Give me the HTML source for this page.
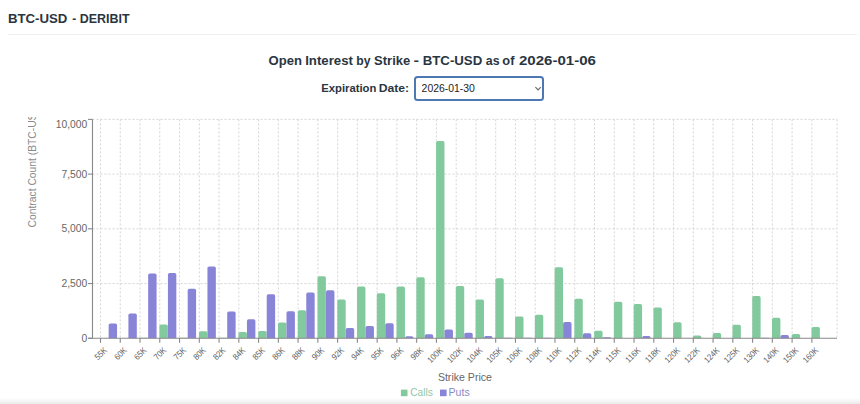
<!DOCTYPE html>
<html><head><meta charset="utf-8">
<style>
html,body{margin:0;padding:0;}
body{width:860px;height:404px;position:relative;overflow:hidden;background:#fff;font-family:"Liberation Sans",sans-serif;}
.shade{position:absolute;left:0;top:397.8px;width:860px;height:6.2px;background:linear-gradient(#ffffff,#eaeaea);}
.sep{position:absolute;left:7.7px;top:33.6px;width:849.5px;height:1px;background:#f0f0f0;}
.sel{position:absolute;left:413.5px;top:76.0px;width:130.3px;height:24.5px;box-sizing:border-box;border:2px solid #4e78b2;border-radius:3.5px;background:#fff;}
svg{position:absolute;left:0;top:0;}
</style></head><body>
<div class="sep"></div>
<div class="sel"></div>
<svg width="860" height="404" viewBox="0 0 860 404">
<path d="M535.4,87.1 L538.1,89.8 L540.8,87.1" fill="none" stroke="#6a6a6a" stroke-width="1.2"/>
<g stroke="#d0d0d0" stroke-width="0.9" stroke-dasharray="2 2" fill="none"><line x1="92.5" y1="283.57" x2="837.0" y2="283.57"/><line x1="92.5" y1="228.84" x2="837.0" y2="228.84"/><line x1="92.5" y1="174.11" x2="837.0" y2="174.11"/><line x1="92.5" y1="119.38" x2="837.0" y2="119.38"/><line x1="100.50" y1="119.4" x2="100.50" y2="338.3"/><line x1="120.26" y1="119.4" x2="120.26" y2="338.3"/><line x1="140.02" y1="119.4" x2="140.02" y2="338.3"/><line x1="159.78" y1="119.4" x2="159.78" y2="338.3"/><line x1="179.54" y1="119.4" x2="179.54" y2="338.3"/><line x1="199.30" y1="119.4" x2="199.30" y2="338.3"/><line x1="219.06" y1="119.4" x2="219.06" y2="338.3"/><line x1="238.82" y1="119.4" x2="238.82" y2="338.3"/><line x1="258.58" y1="119.4" x2="258.58" y2="338.3"/><line x1="278.34" y1="119.4" x2="278.34" y2="338.3"/><line x1="298.10" y1="119.4" x2="298.10" y2="338.3"/><line x1="317.86" y1="119.4" x2="317.86" y2="338.3"/><line x1="337.62" y1="119.4" x2="337.62" y2="338.3"/><line x1="357.38" y1="119.4" x2="357.38" y2="338.3"/><line x1="377.14" y1="119.4" x2="377.14" y2="338.3"/><line x1="396.90" y1="119.4" x2="396.90" y2="338.3"/><line x1="416.66" y1="119.4" x2="416.66" y2="338.3"/><line x1="436.42" y1="119.4" x2="436.42" y2="338.3"/><line x1="456.18" y1="119.4" x2="456.18" y2="338.3"/><line x1="475.94" y1="119.4" x2="475.94" y2="338.3"/><line x1="495.70" y1="119.4" x2="495.70" y2="338.3"/><line x1="515.46" y1="119.4" x2="515.46" y2="338.3"/><line x1="535.22" y1="119.4" x2="535.22" y2="338.3"/><line x1="554.98" y1="119.4" x2="554.98" y2="338.3"/><line x1="574.74" y1="119.4" x2="574.74" y2="338.3"/><line x1="594.50" y1="119.4" x2="594.50" y2="338.3"/><line x1="614.26" y1="119.4" x2="614.26" y2="338.3"/><line x1="634.02" y1="119.4" x2="634.02" y2="338.3"/><line x1="653.78" y1="119.4" x2="653.78" y2="338.3"/><line x1="673.54" y1="119.4" x2="673.54" y2="338.3"/><line x1="693.30" y1="119.4" x2="693.30" y2="338.3"/><line x1="713.06" y1="119.4" x2="713.06" y2="338.3"/><line x1="732.82" y1="119.4" x2="732.82" y2="338.3"/><line x1="752.58" y1="119.4" x2="752.58" y2="338.3"/><line x1="772.34" y1="119.4" x2="772.34" y2="338.3"/><line x1="792.10" y1="119.4" x2="792.10" y2="338.3"/><line x1="811.86" y1="119.4" x2="811.86" y2="338.3"/><line x1="837.0" y1="119.4" x2="837.0" y2="338.3"/></g>
<path d="M108.65,338.30 L108.65,325.11 Q108.65,323.41 110.35,323.41 L115.35,323.41 Q117.05,323.41 117.05,325.11 L117.05,338.30 Z" fill="#8884d8"/><path d="M128.41,338.30 L128.41,315.21 Q128.41,313.51 130.11,313.51 L135.11,313.51 Q136.81,313.51 136.81,315.21 L136.81,338.30 Z" fill="#8884d8"/><path d="M139.67,338.30 L139.67,338.30 Q139.67,337.64 140.33,337.64 L147.41,337.64 Q148.07,337.64 148.07,338.30 L148.07,338.30 Z" fill="#82ca9d"/><path d="M148.17,338.30 L148.17,275.20 Q148.17,273.50 149.87,273.50 L154.87,273.50 Q156.57,273.50 156.57,275.20 L156.57,338.30 Z" fill="#8884d8"/><path d="M159.43,338.30 L159.43,326.31 Q159.43,324.61 161.13,324.61 L166.13,324.61 Q167.83,324.61 167.83,326.31 L167.83,338.30 Z" fill="#82ca9d"/><path d="M167.93,338.30 L167.93,274.80 Q167.93,273.10 169.63,273.10 L174.63,273.10 Q176.33,273.10 176.33,274.80 L176.33,338.30 Z" fill="#8884d8"/><path d="M179.19,338.30 L179.19,338.30 Q179.19,337.64 179.85,337.64 L186.93,337.64 Q187.59,337.64 187.59,338.30 L187.59,338.30 Z" fill="#82ca9d"/><path d="M187.69,338.30 L187.69,290.51 Q187.69,288.81 189.39,288.81 L194.39,288.81 Q196.09,288.81 196.09,290.51 L196.09,338.30 Z" fill="#8884d8"/><path d="M198.95,338.30 L198.95,332.90 Q198.95,331.20 200.65,331.20 L205.65,331.20 Q207.35,331.20 207.35,332.90 L207.35,338.30 Z" fill="#82ca9d"/><path d="M207.45,338.30 L207.45,268.21 Q207.45,266.51 209.15,266.51 L214.15,266.51 Q215.85,266.51 215.85,268.21 L215.85,338.30 Z" fill="#8884d8"/><path d="M218.71,338.30 L218.71,338.30 Q218.71,337.64 219.37,337.64 L226.45,337.64 Q227.11,337.64 227.11,338.30 L227.11,338.30 Z" fill="#82ca9d"/><path d="M227.21,338.30 L227.21,313.30 Q227.21,311.60 228.91,311.60 L233.91,311.60 Q235.61,311.60 235.61,313.30 L235.61,338.30 Z" fill="#8884d8"/><path d="M238.47,338.30 L238.47,333.61 Q238.47,331.91 240.17,331.91 L245.17,331.91 Q246.87,331.91 246.87,333.61 L246.87,338.30 Z" fill="#82ca9d"/><path d="M246.97,338.30 L246.97,320.90 Q246.97,319.20 248.67,319.20 L253.67,319.20 Q255.37,319.20 255.37,320.90 L255.37,338.30 Z" fill="#8884d8"/><path d="M258.23,338.30 L258.23,332.60 Q258.23,330.90 259.93,330.90 L264.93,330.90 Q266.63,330.90 266.63,332.60 L266.63,338.30 Z" fill="#82ca9d"/><path d="M266.73,338.30 L266.73,295.89 Q266.73,294.19 268.43,294.19 L273.43,294.19 Q275.13,294.19 275.13,295.89 L275.13,338.30 Z" fill="#8884d8"/><path d="M277.99,338.30 L277.99,324.21 Q277.99,322.51 279.69,322.51 L284.69,322.51 Q286.39,322.51 286.39,324.21 L286.39,338.30 Z" fill="#82ca9d"/><path d="M286.49,338.30 L286.49,312.91 Q286.49,311.21 288.19,311.21 L293.19,311.21 Q294.89,311.21 294.89,312.91 L294.89,338.30 Z" fill="#8884d8"/><path d="M297.75,338.30 L297.75,311.90 Q297.75,310.20 299.45,310.20 L304.45,310.20 Q306.15,310.20 306.15,311.90 L306.15,338.30 Z" fill="#82ca9d"/><path d="M306.25,338.30 L306.25,294.10 Q306.25,292.40 307.95,292.40 L312.95,292.40 Q314.65,292.40 314.65,294.10 L314.65,338.30 Z" fill="#8884d8"/><path d="M317.51,338.30 L317.51,278.02 Q317.51,276.32 319.21,276.32 L324.21,276.32 Q325.91,276.32 325.91,278.02 L325.91,338.30 Z" fill="#82ca9d"/><path d="M326.01,338.30 L326.01,291.93 Q326.01,290.23 327.71,290.23 L332.71,290.23 Q334.41,290.23 334.41,291.93 L334.41,338.30 Z" fill="#8884d8"/><path d="M337.27,338.30 L337.27,301.11 Q337.27,299.41 338.97,299.41 L343.97,299.41 Q345.67,299.41 345.67,301.11 L345.67,338.30 Z" fill="#82ca9d"/><path d="M345.77,338.30 L345.77,329.79 Q345.77,328.09 347.47,328.09 L352.47,328.09 Q354.17,328.09 354.17,329.79 L354.17,338.30 Z" fill="#8884d8"/><path d="M357.03,338.30 L357.03,288.21 Q357.03,286.51 358.73,286.51 L363.73,286.51 Q365.43,286.51 365.43,288.21 L365.43,338.30 Z" fill="#82ca9d"/><path d="M365.53,338.30 L365.53,327.69 Q365.53,325.99 367.23,325.99 L372.23,325.99 Q373.93,325.99 373.93,327.69 L373.93,338.30 Z" fill="#8884d8"/><path d="M376.79,338.30 L376.79,295.00 Q376.79,293.30 378.49,293.30 L383.49,293.30 Q385.19,293.30 385.19,295.00 L385.19,338.30 Z" fill="#82ca9d"/><path d="M385.29,338.30 L385.29,324.89 Q385.29,323.19 386.99,323.19 L391.99,323.19 Q393.69,323.19 393.69,324.89 L393.69,338.30 Z" fill="#8884d8"/><path d="M396.55,338.30 L396.55,288.21 Q396.55,286.51 398.25,286.51 L403.25,286.51 Q404.95,286.51 404.95,288.21 L404.95,338.30 Z" fill="#82ca9d"/><path d="M405.05,338.30 L405.05,337.92 Q405.05,336.22 406.75,336.22 L411.75,336.22 Q413.45,336.22 413.45,337.92 L413.45,338.30 Z" fill="#8884d8"/><path d="M416.31,338.30 L416.31,279.01 Q416.31,277.31 418.01,277.31 L423.01,277.31 Q424.71,277.31 424.71,279.01 L424.71,338.30 Z" fill="#82ca9d"/><path d="M424.81,338.30 L424.81,336.06 Q424.81,334.36 426.51,334.36 L431.51,334.36 Q433.21,334.36 433.21,336.06 L433.21,338.30 Z" fill="#8884d8"/><path d="M436.07,338.30 L436.07,142.79 Q436.07,141.09 437.77,141.09 L442.77,141.09 Q444.47,141.09 444.47,142.79 L444.47,338.30 Z" fill="#82ca9d"/><path d="M444.57,338.30 L444.57,331.15 Q444.57,329.45 446.27,329.45 L451.27,329.45 Q452.97,329.45 452.97,331.15 L452.97,338.30 Z" fill="#8884d8"/><path d="M455.83,338.30 L455.83,287.70 Q455.83,286.00 457.53,286.00 L462.53,286.00 Q464.23,286.00 464.23,287.70 L464.23,338.30 Z" fill="#82ca9d"/><path d="M464.33,338.30 L464.33,334.42 Q464.33,332.72 466.03,332.72 L471.03,332.72 Q472.73,332.72 472.73,334.42 L472.73,338.30 Z" fill="#8884d8"/><path d="M475.59,338.30 L475.59,301.11 Q475.59,299.41 477.29,299.41 L482.29,299.41 Q483.99,299.41 483.99,301.11 L483.99,338.30 Z" fill="#82ca9d"/><path d="M484.09,338.30 L484.09,337.81 Q484.09,336.11 485.79,336.11 L490.79,336.11 Q492.49,336.11 492.49,337.81 L492.49,338.30 Z" fill="#8884d8"/><path d="M495.35,338.30 L495.35,279.91 Q495.35,278.21 497.05,278.21 L502.05,278.21 Q503.75,278.21 503.75,279.91 L503.75,338.30 Z" fill="#82ca9d"/><path d="M503.85,338.30 L503.85,338.30 Q503.85,337.64 504.51,337.64 L511.59,337.64 Q512.25,337.64 512.25,338.30 L512.25,338.30 Z" fill="#8884d8"/><path d="M515.11,338.30 L515.11,318.10 Q515.11,316.40 516.81,316.40 L521.81,316.40 Q523.51,316.40 523.51,318.10 L523.51,338.30 Z" fill="#82ca9d"/><path d="M523.61,338.30 L523.61,338.30 Q523.61,337.64 524.27,337.64 L531.35,337.64 Q532.01,337.64 532.01,338.30 L532.01,338.30 Z" fill="#8884d8"/><path d="M534.87,338.30 L534.87,316.39 Q534.87,314.69 536.57,314.69 L541.57,314.69 Q543.27,314.69 543.27,316.39 L543.27,338.30 Z" fill="#82ca9d"/><path d="M543.37,338.30 L543.37,338.30 Q543.37,337.64 544.03,337.64 L551.11,337.64 Q551.77,337.64 551.77,338.30 L551.77,338.30 Z" fill="#8884d8"/><path d="M554.63,338.30 L554.63,268.89 Q554.63,267.19 556.33,267.19 L561.33,267.19 Q563.03,267.19 563.03,268.89 L563.03,338.30 Z" fill="#82ca9d"/><path d="M563.13,338.30 L563.13,323.71 Q563.13,322.01 564.83,322.01 L569.83,322.01 Q571.53,322.01 571.53,323.71 L571.53,338.30 Z" fill="#8884d8"/><path d="M574.39,338.30 L574.39,300.40 Q574.39,298.70 576.09,298.70 L581.09,298.70 Q582.79,298.70 582.79,300.40 L582.79,338.30 Z" fill="#82ca9d"/><path d="M582.89,338.30 L582.89,334.92 Q582.89,333.22 584.59,333.22 L589.59,333.22 Q591.29,333.22 591.29,334.92 L591.29,338.30 Z" fill="#8884d8"/><path d="M594.15,338.30 L594.15,332.55 Q594.15,330.85 595.85,330.85 L600.85,330.85 Q602.55,330.85 602.55,332.55 L602.55,338.30 Z" fill="#82ca9d"/><path d="M602.65,338.30 L602.65,338.30 Q602.65,337.20 603.75,337.20 L609.95,337.20 Q611.05,337.20 611.05,338.30 L611.05,338.30 Z" fill="#8884d8"/><path d="M613.91,338.30 L613.91,303.49 Q613.91,301.79 615.61,301.79 L620.61,301.79 Q622.31,301.79 622.31,303.49 L622.31,338.30 Z" fill="#82ca9d"/><path d="M633.67,338.30 L633.67,305.79 Q633.67,304.09 635.37,304.09 L640.37,304.09 Q642.07,304.09 642.07,305.79 L642.07,338.30 Z" fill="#82ca9d"/><path d="M642.17,338.30 L642.17,337.74 Q642.17,336.04 643.87,336.04 L648.87,336.04 Q650.57,336.04 650.57,337.74 L650.57,338.30 Z" fill="#8884d8"/><path d="M653.43,338.30 L653.43,309.30 Q653.43,307.60 655.13,307.60 L660.13,307.60 Q661.83,307.60 661.83,309.30 L661.83,338.30 Z" fill="#82ca9d"/><path d="M673.19,338.30 L673.19,323.90 Q673.19,322.20 674.89,322.20 L679.89,322.20 Q681.59,322.20 681.59,323.90 L681.59,338.30 Z" fill="#82ca9d"/><path d="M692.95,338.30 L692.95,337.15 Q692.95,335.45 694.65,335.45 L699.65,335.45 Q701.35,335.45 701.35,337.15 L701.35,338.30 Z" fill="#82ca9d"/><path d="M712.71,338.30 L712.71,334.81 Q712.71,333.11 714.41,333.11 L719.41,333.11 Q721.11,333.11 721.11,334.81 L721.11,338.30 Z" fill="#82ca9d"/><path d="M732.47,338.30 L732.47,326.51 Q732.47,324.81 734.17,324.81 L739.17,324.81 Q740.87,324.81 740.87,326.51 L740.87,338.30 Z" fill="#82ca9d"/><path d="M752.23,338.30 L752.23,297.80 Q752.23,296.10 753.93,296.10 L758.93,296.10 Q760.63,296.10 760.63,297.80 L760.63,338.30 Z" fill="#82ca9d"/><path d="M760.73,338.30 L760.73,338.30 Q760.73,337.64 761.39,337.64 L768.47,337.64 Q769.13,337.64 769.13,338.30 L769.13,338.30 Z" fill="#8884d8"/><path d="M771.99,338.30 L771.99,319.41 Q771.99,317.71 773.69,317.71 L778.69,317.71 Q780.39,317.71 780.39,319.41 L780.39,338.30 Z" fill="#82ca9d"/><path d="M780.49,338.30 L780.49,336.80 Q780.49,335.10 782.19,335.10 L787.19,335.10 Q788.89,335.10 788.89,336.80 L788.89,338.30 Z" fill="#8884d8"/><path d="M791.75,338.30 L791.75,335.60 Q791.75,333.90 793.45,333.90 L798.45,333.90 Q800.15,333.90 800.15,335.60 L800.15,338.30 Z" fill="#82ca9d"/><path d="M811.51,338.30 L811.51,328.81 Q811.51,327.11 813.21,327.11 L818.21,327.11 Q819.91,327.11 819.91,328.81 L819.91,338.30 Z" fill="#82ca9d"/>
<g stroke="#888" stroke-width="1.1"><line x1="92.5" y1="119.4" x2="92.5" y2="338.3"/><line x1="88.5" y1="338.3" x2="837.0" y2="338.3"/><line x1="88.0" y1="338.30" x2="92.5" y2="338.30"/><line x1="88.0" y1="283.57" x2="92.5" y2="283.57"/><line x1="88.0" y1="228.84" x2="92.5" y2="228.84"/><line x1="88.0" y1="174.11" x2="92.5" y2="174.11"/><line x1="88.0" y1="119.38" x2="92.5" y2="119.38"/><line x1="100.50" y1="338.3" x2="100.50" y2="342.8"/><line x1="120.26" y1="338.3" x2="120.26" y2="342.8"/><line x1="140.02" y1="338.3" x2="140.02" y2="342.8"/><line x1="159.78" y1="338.3" x2="159.78" y2="342.8"/><line x1="179.54" y1="338.3" x2="179.54" y2="342.8"/><line x1="199.30" y1="338.3" x2="199.30" y2="342.8"/><line x1="219.06" y1="338.3" x2="219.06" y2="342.8"/><line x1="238.82" y1="338.3" x2="238.82" y2="342.8"/><line x1="258.58" y1="338.3" x2="258.58" y2="342.8"/><line x1="278.34" y1="338.3" x2="278.34" y2="342.8"/><line x1="298.10" y1="338.3" x2="298.10" y2="342.8"/><line x1="317.86" y1="338.3" x2="317.86" y2="342.8"/><line x1="337.62" y1="338.3" x2="337.62" y2="342.8"/><line x1="357.38" y1="338.3" x2="357.38" y2="342.8"/><line x1="377.14" y1="338.3" x2="377.14" y2="342.8"/><line x1="396.90" y1="338.3" x2="396.90" y2="342.8"/><line x1="416.66" y1="338.3" x2="416.66" y2="342.8"/><line x1="436.42" y1="338.3" x2="436.42" y2="342.8"/><line x1="456.18" y1="338.3" x2="456.18" y2="342.8"/><line x1="475.94" y1="338.3" x2="475.94" y2="342.8"/><line x1="495.70" y1="338.3" x2="495.70" y2="342.8"/><line x1="515.46" y1="338.3" x2="515.46" y2="342.8"/><line x1="535.22" y1="338.3" x2="535.22" y2="342.8"/><line x1="554.98" y1="338.3" x2="554.98" y2="342.8"/><line x1="574.74" y1="338.3" x2="574.74" y2="342.8"/><line x1="594.50" y1="338.3" x2="594.50" y2="342.8"/><line x1="614.26" y1="338.3" x2="614.26" y2="342.8"/><line x1="634.02" y1="338.3" x2="634.02" y2="342.8"/><line x1="653.78" y1="338.3" x2="653.78" y2="342.8"/><line x1="673.54" y1="338.3" x2="673.54" y2="342.8"/><line x1="693.30" y1="338.3" x2="693.30" y2="342.8"/><line x1="713.06" y1="338.3" x2="713.06" y2="342.8"/><line x1="732.82" y1="338.3" x2="732.82" y2="342.8"/><line x1="752.58" y1="338.3" x2="752.58" y2="342.8"/><line x1="772.34" y1="338.3" x2="772.34" y2="342.8"/><line x1="792.10" y1="338.3" x2="792.10" y2="342.8"/><line x1="811.86" y1="338.3" x2="811.86" y2="342.8"/></g>
<g font-family="Liberation Sans, sans-serif" font-size="10.3" fill="#666"><text x="87.3" y="341.90" text-anchor="end">0</text><text x="87.3" y="287.17" text-anchor="end">2,500</text><text x="87.3" y="232.44" text-anchor="end">5,000</text><text x="87.3" y="177.71" text-anchor="end">7,500</text><text x="87.3" y="127.58" text-anchor="end">10,000</text></g>
<g font-family="Liberation Sans, sans-serif" font-size="8.6" fill="#616161"><text x="0" y="0" transform="translate(103.30 346.50) rotate(-45) scale(0.9 1)" text-anchor="end" dy="6.11">55K</text><text x="0" y="0" transform="translate(123.06 346.50) rotate(-45) scale(0.9 1)" text-anchor="end" dy="6.11">60K</text><text x="0" y="0" transform="translate(142.82 346.50) rotate(-45) scale(0.9 1)" text-anchor="end" dy="6.11">65K</text><text x="0" y="0" transform="translate(162.58 346.50) rotate(-45) scale(0.9 1)" text-anchor="end" dy="6.11">70K</text><text x="0" y="0" transform="translate(182.34 346.50) rotate(-45) scale(0.9 1)" text-anchor="end" dy="6.11">75K</text><text x="0" y="0" transform="translate(202.10 346.50) rotate(-45) scale(0.9 1)" text-anchor="end" dy="6.11">80K</text><text x="0" y="0" transform="translate(221.86 346.50) rotate(-45) scale(0.9 1)" text-anchor="end" dy="6.11">82K</text><text x="0" y="0" transform="translate(241.62 346.50) rotate(-45) scale(0.9 1)" text-anchor="end" dy="6.11">84K</text><text x="0" y="0" transform="translate(261.38 346.50) rotate(-45) scale(0.9 1)" text-anchor="end" dy="6.11">85K</text><text x="0" y="0" transform="translate(281.14 346.50) rotate(-45) scale(0.9 1)" text-anchor="end" dy="6.11">86K</text><text x="0" y="0" transform="translate(300.90 346.50) rotate(-45) scale(0.9 1)" text-anchor="end" dy="6.11">88K</text><text x="0" y="0" transform="translate(320.66 346.50) rotate(-45) scale(0.9 1)" text-anchor="end" dy="6.11">90K</text><text x="0" y="0" transform="translate(340.42 346.50) rotate(-45) scale(0.9 1)" text-anchor="end" dy="6.11">92K</text><text x="0" y="0" transform="translate(360.18 346.50) rotate(-45) scale(0.9 1)" text-anchor="end" dy="6.11">94K</text><text x="0" y="0" transform="translate(379.94 346.50) rotate(-45) scale(0.9 1)" text-anchor="end" dy="6.11">95K</text><text x="0" y="0" transform="translate(399.70 346.50) rotate(-45) scale(0.9 1)" text-anchor="end" dy="6.11">96K</text><text x="0" y="0" transform="translate(419.46 346.50) rotate(-45) scale(0.9 1)" text-anchor="end" dy="6.11">98K</text><text x="0" y="0" transform="translate(439.22 346.50) rotate(-45) scale(0.9 1)" text-anchor="end" dy="6.11">100K</text><text x="0" y="0" transform="translate(458.98 346.50) rotate(-45) scale(0.9 1)" text-anchor="end" dy="6.11">102K</text><text x="0" y="0" transform="translate(478.74 346.50) rotate(-45) scale(0.9 1)" text-anchor="end" dy="6.11">104K</text><text x="0" y="0" transform="translate(498.50 346.50) rotate(-45) scale(0.9 1)" text-anchor="end" dy="6.11">105K</text><text x="0" y="0" transform="translate(518.26 346.50) rotate(-45) scale(0.9 1)" text-anchor="end" dy="6.11">106K</text><text x="0" y="0" transform="translate(538.02 346.50) rotate(-45) scale(0.9 1)" text-anchor="end" dy="6.11">108K</text><text x="0" y="0" transform="translate(557.78 346.50) rotate(-45) scale(0.9 1)" text-anchor="end" dy="6.11">110K</text><text x="0" y="0" transform="translate(577.54 346.50) rotate(-45) scale(0.9 1)" text-anchor="end" dy="6.11">112K</text><text x="0" y="0" transform="translate(597.30 346.50) rotate(-45) scale(0.9 1)" text-anchor="end" dy="6.11">114K</text><text x="0" y="0" transform="translate(617.06 346.50) rotate(-45) scale(0.9 1)" text-anchor="end" dy="6.11">115K</text><text x="0" y="0" transform="translate(636.82 346.50) rotate(-45) scale(0.9 1)" text-anchor="end" dy="6.11">116K</text><text x="0" y="0" transform="translate(656.58 346.50) rotate(-45) scale(0.9 1)" text-anchor="end" dy="6.11">118K</text><text x="0" y="0" transform="translate(676.34 346.50) rotate(-45) scale(0.9 1)" text-anchor="end" dy="6.11">120K</text><text x="0" y="0" transform="translate(696.10 346.50) rotate(-45) scale(0.9 1)" text-anchor="end" dy="6.11">122K</text><text x="0" y="0" transform="translate(715.86 346.50) rotate(-45) scale(0.9 1)" text-anchor="end" dy="6.11">124K</text><text x="0" y="0" transform="translate(735.62 346.50) rotate(-45) scale(0.9 1)" text-anchor="end" dy="6.11">125K</text><text x="0" y="0" transform="translate(755.38 346.50) rotate(-45) scale(0.9 1)" text-anchor="end" dy="6.11">130K</text><text x="0" y="0" transform="translate(775.14 346.50) rotate(-45) scale(0.9 1)" text-anchor="end" dy="6.11">140K</text><text x="0" y="0" transform="translate(794.90 346.50) rotate(-45) scale(0.9 1)" text-anchor="end" dy="6.11">150K</text><text x="0" y="0" transform="translate(814.66 346.50) rotate(-45) scale(0.9 1)" text-anchor="end" dy="6.11">160K</text></g>
<defs><clipPath id="yc"><rect x="0" y="116.9" width="60" height="130"/></clipPath></defs><g clip-path="url(#yc)"><text x="0" y="0" transform="translate(35.6 227.4) rotate(-90)" font-family="Liberation Sans, sans-serif" font-size="10.3" fill="#8a8a8a">Contract Count (BTC-USD)</text></g>
<text x="268.52" y="65.1" textLength="33.39" lengthAdjust="spacingAndGlyphs" style="font:bold 13.45px 'Liberation Sans'" fill="#2a3541">Open</text>
<text x="305.17" y="65.1" textLength="47.72" lengthAdjust="spacingAndGlyphs" style="font:bold 13.45px 'Liberation Sans'" fill="#2a3541">Interest</text>
<text x="356.23" y="65.1" textLength="14.18" lengthAdjust="spacingAndGlyphs" style="font:bold 13.45px 'Liberation Sans'" fill="#2a3541">by</text>
<text x="374.08" y="65.1" textLength="36.13" lengthAdjust="spacingAndGlyphs" style="font:bold 13.45px 'Liberation Sans'" fill="#2a3541">Strike</text>
<text x="413.49" y="65.1" textLength="5.53" lengthAdjust="spacingAndGlyphs" style="font:bold 13.45px 'Liberation Sans'" fill="#2a3541">-</text>
<text x="422.68" y="65.1" textLength="59.57" lengthAdjust="spacingAndGlyphs" style="font:bold 13.45px 'Liberation Sans'" fill="#2a3541">BTC-USD</text>
<text x="485.80" y="65.1" textLength="13.78" lengthAdjust="spacingAndGlyphs" style="font:bold 13.45px 'Liberation Sans'" fill="#2a3541">as</text>
<text x="502.35" y="65.1" textLength="12.09" lengthAdjust="spacingAndGlyphs" style="font:bold 13.45px 'Liberation Sans'" fill="#2a3541">of</text>
<text x="519.01" y="65.1" textLength="77.00" lengthAdjust="spacingAndGlyphs" style="font:bold 13.45px 'Liberation Sans'" fill="#2a3541">2026-01-06</text>
<text x="7.96" y="23.3" textLength="59.45" lengthAdjust="spacingAndGlyphs" style="font:bold 13px 'Liberation Sans'" fill="#2a3541">BTC-USD</text>
<text x="72.30" y="23.3" textLength="3.94" lengthAdjust="spacingAndGlyphs" style="font:bold 13px 'Liberation Sans'" fill="#2a3541">-</text>
<text x="79.81" y="23.3" textLength="49.82" lengthAdjust="spacingAndGlyphs" style="font:bold 13px 'Liberation Sans'" fill="#2a3541">DERIBIT</text>
<text x="321.24" y="92.2" textLength="55.17" lengthAdjust="spacingAndGlyphs" style="font:bold 11.35px 'Liberation Sans'" fill="#2a3541">Expiration</text>
<text x="378.68" y="92.2" textLength="30.45" lengthAdjust="spacingAndGlyphs" style="font:bold 11.35px 'Liberation Sans'" fill="#2a3541">Date:</text>
<text x="421.62" y="91.8" textLength="53.29" lengthAdjust="spacingAndGlyphs" style="font:10.3px 'Liberation Sans'" fill="#222">2026-01-30</text>
<text x="437.89" y="380.9" textLength="54.05" lengthAdjust="spacingAndGlyphs" style="font:10.7px 'Liberation Sans'" fill="#666">Strike Price</text>
<text x="410.22" y="395.6" textLength="22.76" lengthAdjust="spacingAndGlyphs" style="font:10.3px 'Liberation Sans'" fill="#93c6a6">Calls</text>
<text x="448.58" y="395.6" textLength="21.11" lengthAdjust="spacingAndGlyphs" style="font:10.3px 'Liberation Sans'" fill="#8c89c4">Puts</text>
<rect x="400.9" y="389.6" width="6.6" height="6.6" fill="#82ca9d"/>
<rect x="440" y="389.6" width="6.6" height="6.6" fill="#8884d8"/>
</svg>
<div class="shade"></div>
</body></html>
